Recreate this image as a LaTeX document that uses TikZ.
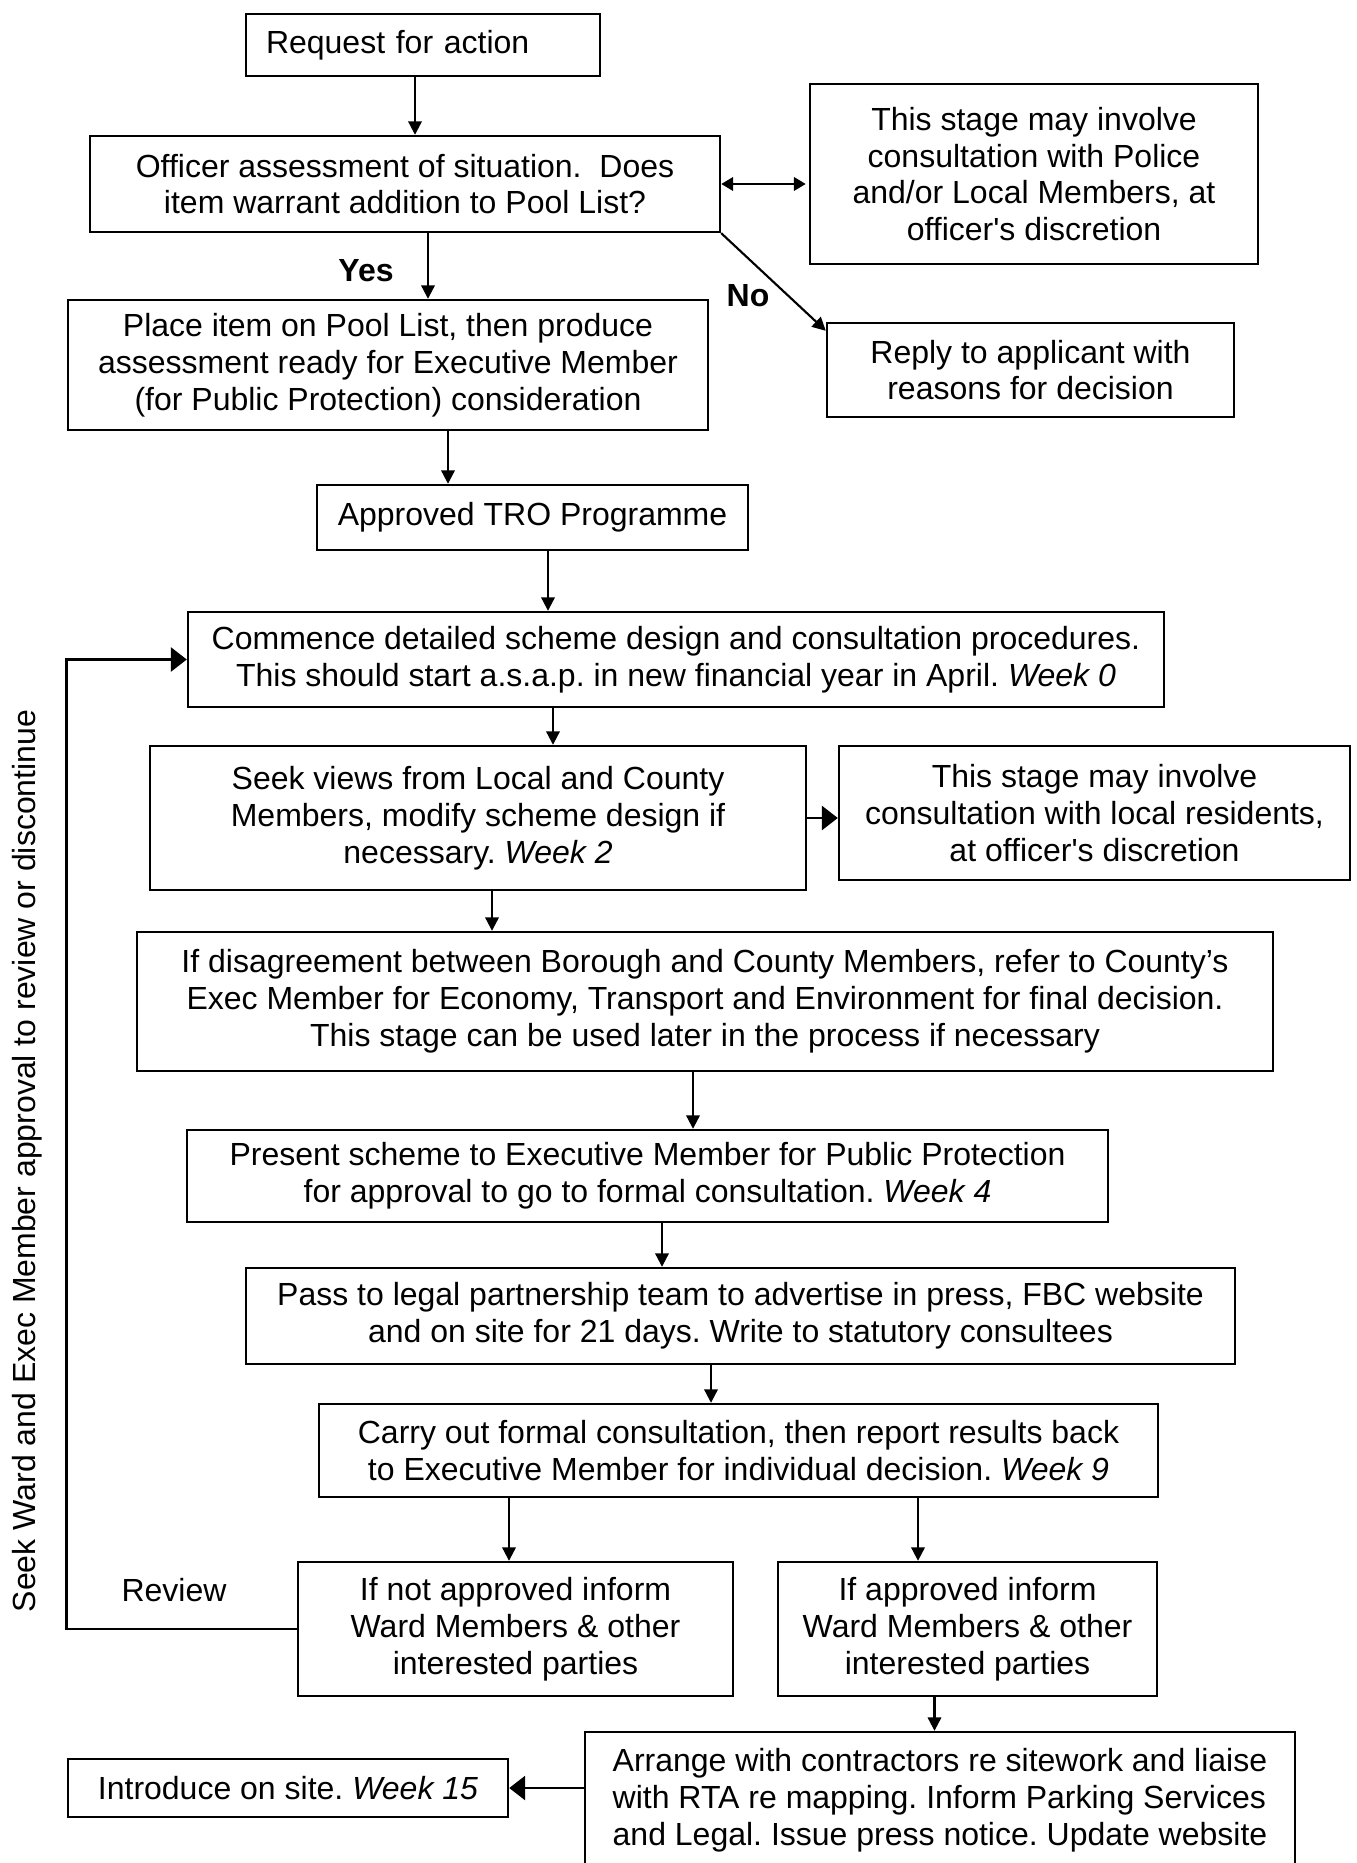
\documentclass[tikz,border=0pt]{standalone}
\usepackage{fontspec}
\setmainfont{Liberation Sans}
\usetikzlibrary{arrows.meta,calc}

\newcommand{\pxu}{0.375pt}
\frenchspacing

\tikzset{
  box/.style={draw, line width=0.9pt, align=center, inner sep=0pt,
    font=\fontsize{12}{13.8}\selectfont},
  sz/.style 2 args={minimum width=#1*\pxu, minimum height=#2*\pxu},
  lbl/.style={inner sep=0pt, font=\fontsize{12}{13.8}\selectfont},
  flow/.style={line width=0.8pt, -{Triangle[length=5pt,width=5pt]}},
  flowbig/.style={line width=1.1pt, -{Triangle[length=6pt,width=9pt]}},
  flowboth/.style={line width=1.1pt, {Triangle[length=4.5pt,width=5pt]}-{Triangle[length=4.5pt,width=5pt]}}
}

\begin{document}
\begin{tikzpicture}[x=0.375pt,y=0.375pt,yscale=-1]

\useasboundingbox (0,0) rectangle (1356,1863);

%Boxes, top part
\node[box, sz={354}{62}, align=left, text width=314*\pxu] (req) at (423,45) {Request for action};
\node[box, sz={630}{96}] (off) at (405,184) {Officer assessment of situation.\ \ Does\\ item warrant addition to Pool List?};
\node[box, sz={448}{180}] (pol) at (1034,174) {This stage may involve\\ consultation with Police\\ and/or Local Members, at\\ officer\textquotesingle s discretion};
\node[box, sz={640}{130}] (place) at (388,365) {Place item on Pool List, then produce\\ assessment ready for Executive Member\\ (for Public Protection) consideration};
\node[box, sz={407}{94}] (reply) at (1030.5,370) {Reply to applicant with\\ reasons for decision};
\node[box, sz={431}{65}] (tro) at (532.5,517.5) {Approved TRO Programme};

%Boxes, scheme stages
\node[box, sz={976}{95}] (com) at (676,659.5) {Commence detailed scheme design and consultation procedures.\\ This should start a.s.a.p. in new financial year in April. \textit{Week 0}};
\node[box, sz={656}{144}] (seek) at (478,818) {Seek views from Local and County\\ Members, modify scheme design if\\ necessary. \textit{Week 2}};
\node[box, sz={511}{134}] (res) at (1094.5,813) {This stage may involve\\ consultation with local residents,\\ at officer\textquotesingle s discretion};
\node[box, sz={1136}{139}] (dis) at (705,1001.5) {If disagreement between Borough and County Members, refer to County’s\\ Exec Member for Economy, Transport and Environment for final decision.\\ This stage can be used later in the process if necessary};
\node[box, sz={921}{92}] (pres) at (647.5,1176) {Present scheme to Executive Member for Public Protection\\ for approval to go to formal consultation. \textit{Week 4}};
\node[box, sz={989}{96}] (pass) at (740.5,1316) {Pass to legal partnership team to advertise in press, FBC website\\ and on site for 21 days. Write to statutory consultees};
\node[box, sz={839}{93}] (carry) at (738.5,1450.5) {Carry out formal consultation, then report results back\\ to Executive Member for individual decision. \textit{Week 9}};

%Boxes, outcome
\node[box, sz={435}{134}] (notap) at (515.5,1629) {If not approved inform\\ Ward Members \& other\\ interested parties};
\node[box, sz={379}{134}] (ap) at (967.5,1629) {If approved inform\\ Ward Members \& other\\ interested parties};
\node[box, sz={710}{136}, align=left] (arr) at (940,1800) {Arrange with contractors re sitework and liaise\\ with RTA re mapping. Inform Parking Services\\ and Legal. Issue press notice. Update website};
\node[box, sz={440}{58}] (intro) at (288,1788) {Introduce on site. \textit{Week 15}};

%Labels
\node[lbl, font=\fontsize{12}{13.8}\selectfont\bfseries] (yes) at (366,271) {Yes};
\node[lbl, font=\fontsize{12}{13.8}\selectfont\bfseries] (no) at (748,296) {No};
\node[lbl] (review) at (174,1590) {Review};
\node[lbl, rotate=90] (sideways) at (27,1161) {Seek Ward and Exec Member approval to review or discontinue};

%Connectors
\draw[flow] ([xshift=-8*\pxu]req.south) -- ([xshift=-8*\pxu]req.south |- off.north);
\draw[flowboth] (off.east) -- ([xshift=-3*\pxu]off.east -| pol.west);
\draw[flow] ([xshift=23*\pxu]off.south) -- ([xshift=23*\pxu]off.south |- place.north);
\draw[flow] (off.south east) -- ($(reply.north west)+(0,9)$);
\draw[flow] ([xshift=60*\pxu]place.south) -- ([xshift=60*\pxu]place.south |- tro.north);
\draw[flow] ([xshift=15.5*\pxu]tro.south) -- ([xshift=15.5*\pxu]tro.south |- com.north);
\draw[flow] ([xshift=-123*\pxu]com.south) -- ([xshift=-123*\pxu]com.south |- seek.north);
\draw[flowbig] (seek.east) -- (seek.east -| res.west);
\draw[flow] ([xshift=14*\pxu]seek.south) -- ([xshift=14*\pxu]seek.south |- dis.north);
\draw[flow] ([xshift=-12*\pxu]dis.south) -- ([xshift=-12*\pxu]dis.south |- pres.north);
\draw[flow] ([xshift=14.5*\pxu]pres.south) -- ([xshift=14.5*\pxu]pres.south |- pass.north);
\draw[flow] ([xshift=-29.5*\pxu]pass.south) -- ([xshift=-29.5*\pxu]pass.south |- carry.north);
\draw[flow] ([xshift=-229.5*\pxu]carry.south) -- ([xshift=-229.5*\pxu]carry.south |- notap.north);
\draw[flow] ([xshift=179.5*\pxu]carry.south) -- ([xshift=179.5*\pxu]carry.south |- ap.north);
\draw[flow] ([xshift=-33*\pxu]ap.south) -- ([xshift=-33*\pxu]ap.south |- arr.north);
\draw[flowbig] (arr.west |- intro.east) -- (intro.east);
%Review loop back to the scheme stage
\draw[flowbig] (notap.west) -| ([xshift=-120*\pxu]com.west) -- (com.west);

\end{tikzpicture}
\end{document}
